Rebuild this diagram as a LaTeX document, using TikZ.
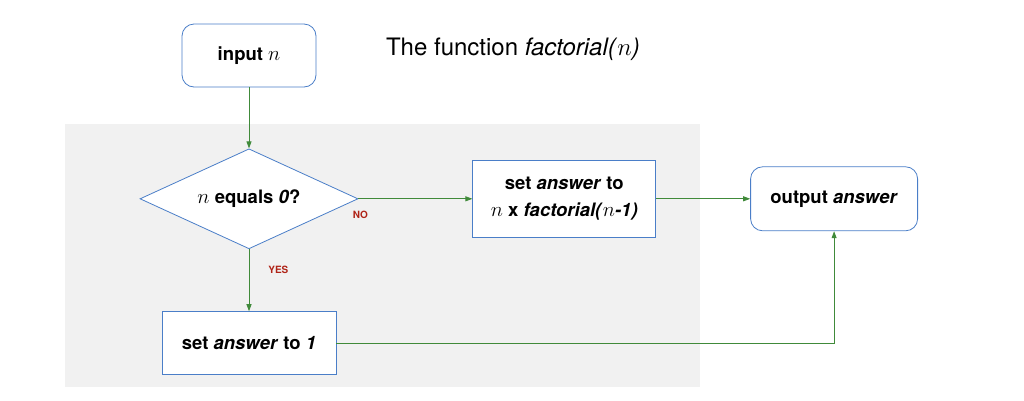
\documentclass[tikz,border=0pt]{standalone}
\usepackage{fontspec}
\setmainfont{TeX Gyre Heros}
\usetikzlibrary{positioning,shapes.geometric,arrows.meta}
\definecolor{flowgreen}{RGB}{64,138,58}
\definecolor{boxblue}{RGB}{74,126,200}
\definecolor{labelred}{RGB}{176,36,24}
\definecolor{panelgray}{RGB}{241,241,241}
\newcommand{\varn}{{\fontsize{21}{21}\selectfont$n$}}

\begin{document}
\begin{tikzpicture}[x=1pt,y=-1pt,->,>={Triangle[length=7pt,width=5pt]},line width=0.8pt,
    box font/.style={font=\fontsize{18.5}{27}\selectfont\bfseries},
    end node/.style={box font,draw=boxblue,fill=white,rounded corners=12pt,align=center},
    step node/.style={box font,draw=boxblue,fill=white,align=center},
    test node/.style={box font,draw=boxblue,fill=white,diamond,aspect=2.18,inner sep=0pt,minimum width=218pt,minimum height=100pt},
    label node/.style={font=\fontsize{10}{12}\selectfont\bfseries,text=labelred,inner sep=1pt},
    flow/.style={color=flowgreen,line width=0.8pt}]
            \useasboundingbox (0,0) rectangle (1024,400);
            \fill[panelgray] (65,124) rectangle (700,387);

            \node[end node,minimum width=134pt,minimum height=63pt] (input) at (249,55.5) {input \varn};
            \node[font=\fontsize{24}{28}\selectfont] (title) at (513,49) {The function \textit{factorial(}{\fontsize{28}{28}\selectfont$n$}\textit{)}};
            \node[test node] (zero) [below=61pt of input] {\varn{} equals \textit{0}?};
            \node[step node,minimum width=183pt,minimum height=77pt] (recur) [right=114pt of zero] {set \textit{answer} to\\\varn{} x \textit{factorial(}\varn\textit{-1)}};
            \node[end node,minimum width=167pt,minimum height=64pt] (output) [right=94pt of recur] {output \textit{answer}};
            \node[step node,minimum width=174pt,minimum height=63pt] (base) [below=62pt of zero] {set \textit{answer} to \textit{1}};

            \path[flow]
                (input) edge (zero)
                (zero) edge node[label node,pos=0,below=11pt,xshift=2pt] {NO} (recur)
                (zero) edge node[label node,pos=0.34,right=18pt] {YES} (base)
                (recur) edge (output)
                ;
            \draw[flow] (base) -| (output);
        \end{tikzpicture}
\end{document}
